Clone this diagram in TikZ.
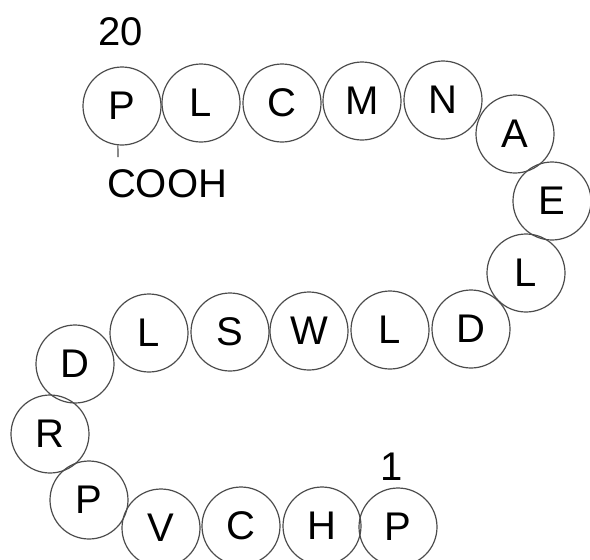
\documentclass[tikz,border=0pt]{standalone}
\usepackage{fontspec}
\setmainfont{Liberation Sans}
\begin{document}
\begin{tikzpicture}[x=0.5pt,y=-0.5pt,
  residue/.style={circle,draw=black!70,line width=0.6pt,minimum size=39pt,inner sep=0pt,font=\fontsize{20}{24}\selectfont},
  tag/.style={inner sep=0pt,font=\fontsize{20}{24}\selectfont}]
\useasboundingbox (0,0) rectangle (590,559);
\foreach \n/\x/\y/\res in {1/398/527/P, 2/322/526/H, 3/241/526/C, 4/161/528/V, 5/89/500/P,
  6/50/434/R, 7/75/364/D, 8/149/333/L, 9/230/332/S, 10/309/331/W,
  11/390/330/L, 12/471/329/D, 13/526/273/L, 14/552/201/E, 15/515/134/A,
  16/443/100/N, 17/362/101/M, 18/282/103/C, 19/201/103/L, 20/122/106/P}
  \node[residue] (r\n) at (\x,\y) {\res};
\node[tag] (first) at (392,467) {1};
\node[tag] (last) at (121,32) {20};
\node[tag] (cooh) at (167,184) {COOH};
\coordinate (tick) at (118,157);
\draw[black!70,line width=0.6pt] (r20.264) -- (tick);
\end{tikzpicture}
\end{document}
